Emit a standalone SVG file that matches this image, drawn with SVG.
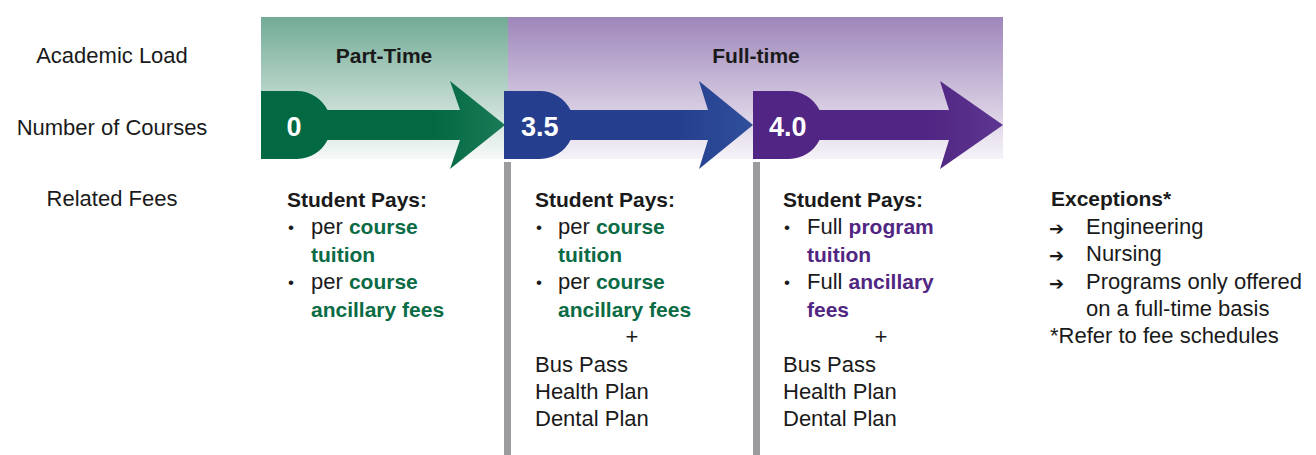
<svg xmlns="http://www.w3.org/2000/svg" width="1316" height="455" viewBox="0 0 1316 455">
<style>
text{font-family:"Liberation Sans",Arial,sans-serif;fill:#1a1a1a}
.lbl{font-size:22px;text-anchor:middle}
.hd{font-size:21px;font-weight:bold}
.hdc{font-size:21px;font-weight:bold;text-anchor:middle}
.num{font-size:27px;font-weight:bold;fill:#ffffff}
.t{font-size:22px}
.bul{font-size:17px}
.b{font-weight:bold;font-size:21px}
.g{fill:#0a6b45}
.p{fill:#512683}
.ctr{text-anchor:middle}
.arr{font-family:"DejaVu Sans",sans-serif;font-size:18px;font-weight:bold}
.bar{fill:#9b9b9d}
</style>
<defs>
<linearGradient id="bgG" x1="0" y1="0" x2="0" y2="1">
<stop offset="0" stop-color="#72ab95"/>
<stop offset="1" stop-color="#f6f9f8"/>
</linearGradient>
<linearGradient id="bgP" x1="0" y1="0" x2="0" y2="1">
<stop offset="0" stop-color="#9e86ba"/>
<stop offset="1" stop-color="#f6f3f8"/>
</linearGradient>
<linearGradient id="arG" gradientUnits="userSpaceOnUse" x1="261" y1="0" x2="505" y2="0">
<stop offset="0.7" stop-color="#026942"/>
<stop offset="1" stop-color="#1a7a56"/>
</linearGradient>
<linearGradient id="arB" gradientUnits="userSpaceOnUse" x1="504" y1="0" x2="753" y2="0">
<stop offset="0.7" stop-color="#253f8e"/>
<stop offset="1" stop-color="#2f4f9b"/>
</linearGradient>
<linearGradient id="arP" gradientUnits="userSpaceOnUse" x1="753" y1="0" x2="1003" y2="0">
<stop offset="0.7" stop-color="#512583"/>
<stop offset="1" stop-color="#5c3791"/>
</linearGradient>
</defs>

<g id="row-labels">
<text class="lbl" x="112" y="63">Academic Load</text>
<text class="lbl" x="112" y="135">Number of Courses</text>
<text class="lbl" x="112" y="206">Related Fees</text>
</g>

<g id="load-part-time">
<rect x="261" y="17" width="247" height="142" fill="url(#bgG)"/>
<text class="hdc" x="384" y="63">Part-Time</text>
</g>
<g id="load-full-time">
<rect x="508" y="17" width="495" height="142" fill="url(#bgP)"/>
<text class="hdc" x="756" y="63">Full-time</text>
</g>

<g id="connectors">
<rect class="bar" x="504" y="162" width="7" height="293"/>
<rect class="bar" x="753" y="162" width="7" height="293"/>
</g>

<g id="arrow-0">
<path d="M261,91 H297 A34,34 0 0 1 327.5,110 H460 L450,81 L505,125 L450,169 L460,140 H327.5 A34,34 0 0 1 297,159 H261 Z" fill="url(#arG)"/>
<text class="num ctr" x="294" y="136">0</text>
</g>
<g id="arrow-35">
<path d="M504,91 H540 A34,34 0 0 1 570.5,110 H708 L699,81 L753,125 L699,169 L708,140 H570.5 A34,34 0 0 1 540,159 H504 Z" fill="url(#arB)"/>
<text class="num" x="521" y="136">3.5</text>
</g>
<g id="arrow-40">
<path d="M753,91 H789 A34,34 0 0 1 819.5,110 H949 L940,81 L1003,125 L940,169 L949,140 H819.5 A34,34 0 0 1 789,159 H753 Z" fill="url(#arP)"/>
<text class="num" x="769" y="136">4.0</text>
</g>

<g id="fees-part-time">
<text class="hd" x="287" y="207">Student Pays:</text>
<text class="bul" x="288" y="233">•</text>
<text class="t" x="311" y="234">per <tspan class="b g">course</tspan></text>
<text class="b g" x="311" y="262">tuition</text>
<text class="bul" x="288" y="288">•</text>
<text class="t" x="311" y="289">per <tspan class="b g">course</tspan></text>
<text class="b g" x="311" y="317">ancillary fees</text>
</g>

<g id="fees-35">
<text class="hd" x="535" y="207">Student Pays:</text>
<text class="bul" x="536" y="233">•</text>
<text class="t" x="558" y="234">per <tspan class="b g">course</tspan></text>
<text class="b g" x="558" y="262">tuition</text>
<text class="bul" x="536" y="288">•</text>
<text class="t" x="558" y="289">per <tspan class="b g">course</tspan></text>
<text class="b g" x="558" y="317">ancillary fees</text>
<text class="t ctr" x="632" y="344">+</text>
<text class="t" x="535" y="372">Bus Pass</text>
<text class="t" x="535" y="399">Health Plan</text>
<text class="t" x="535" y="426">Dental Plan</text>
</g>

<g id="fees-40">
<text class="hd" x="783" y="207">Student Pays:</text>
<text class="bul" x="784" y="233">•</text>
<text class="t" x="807" y="234">Full <tspan class="b p">program</tspan></text>
<text class="b p" x="807" y="262">tuition</text>
<text class="bul" x="784" y="288">•</text>
<text class="t" x="807" y="289">Full <tspan class="b p">ancillary</tspan></text>
<text class="b p" x="807" y="317">fees</text>
<text class="t ctr" x="881" y="344">+</text>
<text class="t" x="783" y="372">Bus Pass</text>
<text class="t" x="783" y="399">Health Plan</text>
<text class="t" x="783" y="426">Dental Plan</text>
</g>

<g id="exceptions">
<text class="hd" x="1051" y="206">Exceptions*</text>
<text class="arr" x="1049" y="235">➔</text>
<text class="t" x="1086" y="234">Engineering</text>
<text class="arr" x="1049" y="262">➔</text>
<text class="t" x="1086" y="261">Nursing</text>
<text class="arr" x="1049" y="290">➔</text>
<text class="t" x="1086" y="289">Programs only offered</text>
<text class="t" x="1086" y="316">on a full-time basis</text>
<text class="t" x="1050" y="343">*Refer to fee schedules</text>
</g>
</svg>
